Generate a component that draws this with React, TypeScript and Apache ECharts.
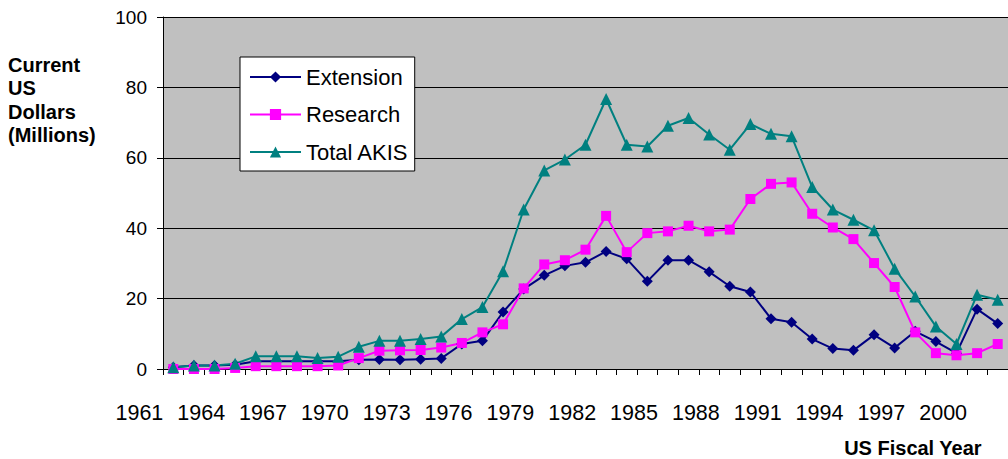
import React, { useEffect, useRef } from "react";
import * as echarts from "echarts";

const years = [
  "1961", "1962", "1963", "1964", "1965", "1966", "1967", "1968", "1969", "1970",
  "1971", "1972", "1973", "1974", "1975", "1976", "1977", "1978", "1979", "1980",
  "1981", "1982", "1983", "1984", "1985", "1986", "1987", "1988", "1989", "1990",
  "1991", "1992", "1993", "1994", "1995", "1996", "1997", "1998", "1999", "2000",
  "2001",
];

const tickLabels = [
  "1961", "1964", "1967", "1970", "1973", "1976", "1979",
  "1982", "1985", "1988", "1991", "1994", "1997", "2000",
];

const extension = [
  0.5, 1.0, 1.0, 1.2, 2.2, 2.2, 2.2, 2.2, 2.2, 2.6,
  2.7, 2.6, 2.8, 3.0, 7.1, 8.0, 16.2, 22.7, 26.6, 29.3,
  30.3, 33.4, 31.3, 24.9, 30.9, 30.9, 27.6, 23.5, 21.9, 14.3,
  13.3, 8.5, 5.8, 5.3, 9.7, 6.0, 10.7, 7.8, 4.5, 17.0,
  12.9,
];

const research = [
  0, 0, 0, 0.3, 0.8, 0.8, 0.8, 0.8, 1.0, 3.1,
  5.2, 5.3, 5.4, 6.1, 7.4, 10.4, 12.7, 22.9, 29.7, 30.9,
  33.9, 43.5, 33.2, 38.6, 39.1, 40.7, 39.1, 39.6, 48.3, 52.6,
  53.0, 44.1, 40.2, 36.9, 30.1, 23.3, 10.4, 4.5, 3.9, 4.5,
  7.1,
];

const totalAkis = [
  0.5, 1.0, 1.0, 1.5, 3.6, 3.6, 3.6, 3.1, 3.5, 6.3,
  8.0, 8.0, 8.5, 9.2, 14.2, 17.6, 27.8, 45.3, 56.4, 59.5,
  63.7, 76.7, 63.7, 63.2, 69.1, 71.3, 66.6, 62.3, 69.6, 66.8,
  66.1, 51.7, 45.3, 42.4, 39.4, 28.5, 20.6, 12.1, 7.1, 21.1,
  19.7,
];

const seriesNames = ["Extension", "Research", "Total AKIS"];
const yTitle = "Current\nUS\nDollars\n(Millions)";
const xTitle = "US Fiscal Year";

const FONT = "'Liberation Sans', Arial, sans-serif";

export default function App() {
  const ref = useRef<HTMLDivElement>(null);

  useEffect(() => {
    if (!ref.current) return;
    const chart = echarts.init(ref.current, null, { renderer: "svg" });
    chart.setOption({
      animation: false,
      backgroundColor: "#ffffff",
      textStyle: { fontFamily: FONT },
      grid: {
        left: 163,
        right: -8,
        top: 17,
        bottom: 90,
        show: true,
        backgroundColor: "#C0C0C0",
        borderWidth: 0,
      },
      legend: {
        orient: "vertical",
        left: 240,
        top: 57,
        padding: [9, 6, 8, 9],
        itemWidth: 51,
        itemHeight: 14,
        itemGap: 15.5,
        backgroundColor: "#ffffff",
        borderColor: "#000000",
        borderWidth: 1,
        textStyle: { fontSize: 22, color: "#000000", fontFamily: FONT },
        data: seriesNames,
      },
      xAxis: {
        type: "category",
        data: years,
        boundaryGap: true,
        axisLine: { show: true, lineStyle: { color: "#000000", width: 1 } },
        axisTick: { show: true, interval: 0, length: 6, lineStyle: { color: "#000000" } },
        axisLabel: {
          interval: (_idx: number, value: string) => tickLabels.includes(value),
          align: "right",
          padding: [0, 10, 0, 0],
          margin: 33,
          fontSize: 21.5,
          color: "#000000",
          fontFamily: FONT,
        },
        splitLine: { show: false },
      },
      yAxis: {
        type: "value",
        min: 0,
        max: 100,
        interval: 20,
        axisLine: { show: true, lineStyle: { color: "#000000", width: 1 } },
        axisTick: { show: true, length: 6, lineStyle: { color: "#000000" } },
        axisLabel: { margin: 16, fontSize: 19, color: "#000000", fontFamily: FONT },
        splitLine: { show: true, lineStyle: { color: "#000000", width: 1 } },
      },
      graphic: [
        {
          type: "text",
          left: 8,
          top: 53,
          style: {
            text: yTitle,
            font: `bold 20px ${FONT}`,
            lineHeight: 23.5,
            fill: "#000000",
          },
        },
        {
          type: "text",
          right: 26,
          top: 438,
          style: {
            text: xTitle,
            font: `bold 20px ${FONT}`,
            fill: "#000000",
          },
        },
      ],
      series: [
        {
          name: seriesNames[0],
          type: "line",
          data: extension,
          symbol: "diamond",
          symbolSize: 11,
          itemStyle: { color: "#000080" },
          lineStyle: { color: "#000080", width: 2 },
        },
        {
          name: seriesNames[1],
          type: "line",
          data: research,
          symbol: "rect",
          symbolSize: 10,
          itemStyle: { color: "#FF00FF" },
          lineStyle: { color: "#FF00FF", width: 2 },
        },
        {
          name: seriesNames[2],
          type: "line",
          data: totalAkis,
          symbol: "triangle",
          symbolSize: 12,
          itemStyle: { color: "#008080" },
          lineStyle: { color: "#008080", width: 2 },
        },
      ],
    });
    return () => chart.dispose();
  }, []);

  return (
    <div
      ref={ref}
      style={{ position: "absolute", left: 0, top: 0, width: 1008, height: 459 }}
    />
  );
}
